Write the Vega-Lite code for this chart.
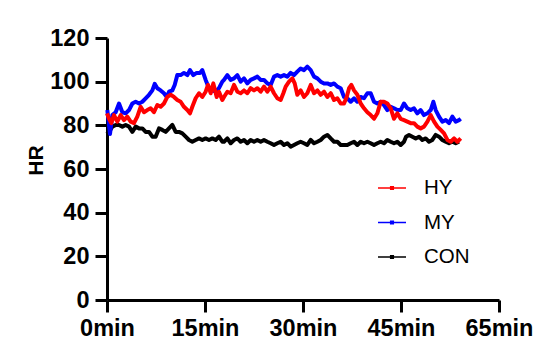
{
  "$schema": "https://vega.github.io/schema/vega-lite/v6.json",
  "width": 392,
  "height": 262,
  "autosize": "none",
  "padding": {"left": 107, "top": 38, "right": 47, "bottom": 52},
  "background": "white",
  "data": {"values": [
    {"g":"CON","t":0,"hr":76},{"g":"CON","t":0.31,"hr":77},{"g":"CON","t":0.82,"hr":79.4},{"g":"CON","t":1.33,"hr":80.2},{"g":"CON","t":1.84,"hr":80.2},{"g":"CON","t":2.35,"hr":79.4},{"g":"CON","t":2.86,"hr":80.2},{"g":"CON","t":3.37,"hr":79.4},{"g":"CON","t":3.88,"hr":77},{"g":"CON","t":4.39,"hr":79.4},{"g":"CON","t":4.9,"hr":78.6},{"g":"CON","t":5.41,"hr":78.6},{"g":"CON","t":5.92,"hr":77},{"g":"CON","t":6.43,"hr":77},{"g":"CON","t":6.94,"hr":74.8},{"g":"CON","t":7.45,"hr":74.8},{"g":"CON","t":7.96,"hr":78.6},{"g":"CON","t":8.47,"hr":77.9},{"g":"CON","t":8.98,"hr":77},{"g":"CON","t":9.49,"hr":78.6},{"g":"CON","t":10.0,"hr":80.2},{"g":"CON","t":10.51,"hr":77},{"g":"CON","t":11.02,"hr":77},{"g":"CON","t":11.53,"hr":76.3},{"g":"CON","t":12.04,"hr":74.8},{"g":"CON","t":12.55,"hr":73.3},{"g":"CON","t":13.06,"hr":72.5},{"g":"CON","t":13.57,"hr":73.3},{"g":"CON","t":14.08,"hr":74},{"g":"CON","t":14.59,"hr":73.3},{"g":"CON","t":15.1,"hr":74},{"g":"CON","t":15.61,"hr":73.3},{"g":"CON","t":16.12,"hr":74},{"g":"CON","t":16.63,"hr":73.3},{"g":"CON","t":17.14,"hr":74.8},{"g":"CON","t":17.65,"hr":72.5},
    {"g":"CON","t":17.91,"hr":72.5},{"g":"CON","t":18.42,"hr":74},{"g":"CON","t":18.93,"hr":71.8},{"g":"CON","t":19.44,"hr":73.3},{"g":"CON","t":19.95,"hr":74},{"g":"CON","t":20.46,"hr":72.5},{"g":"CON","t":20.97,"hr":73.3},{"g":"CON","t":21.48,"hr":71.8},{"g":"CON","t":21.99,"hr":73.3},{"g":"CON","t":22.5,"hr":72.5},{"g":"CON","t":23.01,"hr":73.3},{"g":"CON","t":23.52,"hr":72.5},{"g":"CON","t":24.03,"hr":73.3},{"g":"CON","t":24.54,"hr":72.5},{"g":"CON","t":25.05,"hr":71.8},{"g":"CON","t":25.56,"hr":71},{"g":"CON","t":26.07,"hr":71.8},{"g":"CON","t":26.58,"hr":72.5},{"g":"CON","t":27.09,"hr":71},{"g":"CON","t":27.6,"hr":71.8},{"g":"CON","t":28.11,"hr":70.2},{"g":"CON","t":28.62,"hr":71},{"g":"CON","t":29.13,"hr":71.8},{"g":"CON","t":29.64,"hr":72.5},{"g":"CON","t":30.15,"hr":71.8},{"g":"CON","t":30.66,"hr":71},{"g":"CON","t":31.18,"hr":73.3},{"g":"CON","t":31.69,"hr":71.8},{"g":"CON","t":32.2,"hr":72.5},{"g":"CON","t":32.71,"hr":73.3},{"g":"CON","t":33.22,"hr":74.8},{"g":"CON","t":33.73,"hr":75.6},{"g":"CON","t":34.24,"hr":74},{"g":"CON","t":34.75,"hr":72.5},{"g":"CON","t":35.26,"hr":72.5},{"g":"CON","t":35.77,"hr":71},
    {"g":"CON","t":36.28,"hr":71},{"g":"CON","t":36.79,"hr":71},{"g":"CON","t":37.3,"hr":71.8},{"g":"CON","t":37.81,"hr":72.5},{"g":"CON","t":38.32,"hr":71},{"g":"CON","t":38.83,"hr":72.5},{"g":"CON","t":39.34,"hr":71.8},{"g":"CON","t":39.85,"hr":72.5},{"g":"CON","t":40.36,"hr":71.8},{"g":"CON","t":40.87,"hr":71},{"g":"CON","t":41.38,"hr":71.8},{"g":"CON","t":41.89,"hr":72.5},{"g":"CON","t":42.4,"hr":71.8},{"g":"CON","t":42.91,"hr":73.3},{"g":"CON","t":43.42,"hr":72.5},{"g":"CON","t":43.93,"hr":71.8},{"g":"CON","t":44.44,"hr":72.5},{"g":"CON","t":44.95,"hr":71},{"g":"CON","t":45.46,"hr":72.5},{"g":"CON","t":45.77,"hr":74.8},{"g":"CON","t":46.23,"hr":75.6},{"g":"CON","t":46.74,"hr":74.8},{"g":"CON","t":47.25,"hr":74},{"g":"CON","t":47.76,"hr":74.8},{"g":"CON","t":48.27,"hr":73.3},{"g":"CON","t":48.78,"hr":74},{"g":"CON","t":49.29,"hr":72.5},{"g":"CON","t":49.8,"hr":73.3},{"g":"CON","t":50.31,"hr":75.6},{"g":"CON","t":50.82,"hr":74.8},{"g":"CON","t":51.33,"hr":73.3},{"g":"CON","t":51.84,"hr":72.5},{"g":"CON","t":52.35,"hr":71.8},{"g":"CON","t":52.86,"hr":72.5},{"g":"CON","t":53.37,"hr":71.8},{"g":"CON","t":53.88,"hr":72.5},
    {"g":"MY","t":0.05,"hr":87},{"g":"MY","t":0.46,"hr":76},{"g":"MY","t":0.82,"hr":84.7},{"g":"MY","t":1.33,"hr":86},{"g":"MY","t":1.84,"hr":90},{"g":"MY","t":2.35,"hr":86},{"g":"MY","t":2.86,"hr":85.5},{"g":"MY","t":3.37,"hr":87},{"g":"MY","t":3.88,"hr":90},{"g":"MY","t":4.39,"hr":90.8},{"g":"MY","t":4.9,"hr":90},{"g":"MY","t":5.41,"hr":90.8},{"g":"MY","t":5.92,"hr":92.4},{"g":"MY","t":6.43,"hr":94},{"g":"MY","t":6.94,"hr":96},{"g":"MY","t":7.3,"hr":99},{"g":"MY","t":7.7,"hr":97},{"g":"MY","t":8.21,"hr":96},{"g":"MY","t":8.72,"hr":94.7},{"g":"MY","t":9.13,"hr":93},{"g":"MY","t":9.49,"hr":95.4},{"g":"MY","t":10.0,"hr":96},{"g":"MY","t":10.36,"hr":98.5},{"g":"MY","t":10.76,"hr":103},{"g":"MY","t":11.27,"hr":103},{"g":"MY","t":11.78,"hr":104},{"g":"MY","t":12.3,"hr":103},{"g":"MY","t":12.7,"hr":105.3},{"g":"MY","t":13.21,"hr":103},{"g":"MY","t":13.72,"hr":104},{"g":"MY","t":14.23,"hr":104},{"g":"MY","t":14.59,"hr":105.3},{"g":"MY","t":15.1,"hr":100.8},{"g":"MY","t":15.61,"hr":97},{"g":"MY","t":16.12,"hr":96},{"g":"MY","t":16.63,"hr":95.4},{"g":"MY","t":17.14,"hr":97},{"g":"MY","t":17.65,"hr":100},
    {"g":"MY","t":17.91,"hr":100.8},{"g":"MY","t":18.42,"hr":103},{"g":"MY","t":18.93,"hr":100.8},{"g":"MY","t":19.44,"hr":101.5},{"g":"MY","t":19.95,"hr":103},{"g":"MY","t":20.46,"hr":100},{"g":"MY","t":20.97,"hr":101.5},{"g":"MY","t":21.48,"hr":99.2},{"g":"MY","t":21.99,"hr":100.8},{"g":"MY","t":22.5,"hr":101.5},{"g":"MY","t":23.01,"hr":102.3},{"g":"MY","t":23.52,"hr":100.8},{"g":"MY","t":24.03,"hr":100.8},{"g":"MY","t":24.54,"hr":99.2},{"g":"MY","t":25.05,"hr":98.5},{"g":"MY","t":25.56,"hr":102.3},{"g":"MY","t":26.07,"hr":103},{"g":"MY","t":26.58,"hr":102.3},{"g":"MY","t":27.09,"hr":103},{"g":"MY","t":27.6,"hr":102.3},{"g":"MY","t":28.11,"hr":104},{"g":"MY","t":28.62,"hr":103},{"g":"MY","t":29.13,"hr":104.6},{"g":"MY","t":29.64,"hr":106},{"g":"MY","t":30.15,"hr":105.3},{"g":"MY","t":30.66,"hr":106.9},{"g":"MY","t":31.18,"hr":105.3},{"g":"MY","t":31.69,"hr":102.3},{"g":"MY","t":32.2,"hr":101.5},{"g":"MY","t":32.71,"hr":100},{"g":"MY","t":33.22,"hr":99.2},{"g":"MY","t":33.73,"hr":99.2},{"g":"MY","t":34.24,"hr":98.5},{"g":"MY","t":34.75,"hr":99.2},{"g":"MY","t":35.26,"hr":97.7},{"g":"MY","t":35.77,"hr":97},
    {"g":"MY","t":36.28,"hr":93},{"g":"MY","t":36.79,"hr":92.4},{"g":"MY","t":37.3,"hr":90.8},{"g":"MY","t":37.81,"hr":92.4},{"g":"MY","t":38.32,"hr":90.8},{"g":"MY","t":38.83,"hr":93},{"g":"MY","t":39.34,"hr":92.4},{"g":"MY","t":39.85,"hr":94.7},{"g":"MY","t":40.36,"hr":94.7},{"g":"MY","t":40.87,"hr":90.8},{"g":"MY","t":41.38,"hr":90},{"g":"MY","t":41.89,"hr":90.8},{"g":"MY","t":42.4,"hr":89.3},{"g":"MY","t":42.91,"hr":87},{"g":"MY","t":43.42,"hr":88.5},{"g":"MY","t":43.93,"hr":87.8},{"g":"MY","t":44.44,"hr":87},{"g":"MY","t":44.95,"hr":87},{"g":"MY","t":45.46,"hr":90},{"g":"MY","t":45.97,"hr":87.8},{"g":"MY","t":46.48,"hr":87},{"g":"MY","t":46.99,"hr":87.8},{"g":"MY","t":47.5,"hr":85.5},{"g":"MY","t":48.01,"hr":87},{"g":"MY","t":48.52,"hr":84.7},{"g":"MY","t":49.04,"hr":85.5},{"g":"MY","t":49.55,"hr":87},{"g":"MY","t":49.95,"hr":90.8},{"g":"MY","t":50.31,"hr":87},{"g":"MY","t":50.82,"hr":84},{"g":"MY","t":51.33,"hr":81.7},{"g":"MY","t":51.84,"hr":82.4},{"g":"MY","t":52.35,"hr":81},{"g":"MY","t":52.86,"hr":84},{"g":"MY","t":53.37,"hr":81.7},{"g":"MY","t":53.88,"hr":82.4},{"g":"MY","t":54.14,"hr":83},
    {"g":"HY","t":0,"hr":85.5},{"g":"HY","t":0.31,"hr":83},{"g":"HY","t":0.66,"hr":81},{"g":"HY","t":1.07,"hr":84.7},{"g":"HY","t":1.58,"hr":81.7},{"g":"HY","t":2.09,"hr":84.7},{"g":"HY","t":2.6,"hr":82.4},{"g":"HY","t":3.11,"hr":84},{"g":"HY","t":3.62,"hr":81.7},{"g":"HY","t":4.13,"hr":81},{"g":"HY","t":4.64,"hr":84},{"g":"HY","t":5.15,"hr":88.5},{"g":"HY","t":5.66,"hr":86},{"g":"HY","t":6.17,"hr":87},{"g":"HY","t":6.68,"hr":87.8},{"g":"HY","t":7.19,"hr":86},{"g":"HY","t":7.7,"hr":89.3},{"g":"HY","t":8.21,"hr":88.5},{"g":"HY","t":8.72,"hr":90},{"g":"HY","t":9.23,"hr":93},{"g":"HY","t":9.74,"hr":94},{"g":"HY","t":10.25,"hr":93},{"g":"HY","t":10.76,"hr":91.6},{"g":"HY","t":11.27,"hr":90.8},{"g":"HY","t":11.78,"hr":88.5},{"g":"HY","t":12.3,"hr":87},{"g":"HY","t":12.7,"hr":85.5},{"g":"HY","t":13.06,"hr":88.5},{"g":"HY","t":13.57,"hr":92.4},{"g":"HY","t":14.08,"hr":94.7},{"g":"HY","t":14.59,"hr":93},{"g":"HY","t":15.1,"hr":95.4},{"g":"HY","t":15.46,"hr":98.5},{"g":"HY","t":15.87,"hr":94.7},{"g":"HY","t":16.27,"hr":99.2},{"g":"HY","t":16.79,"hr":93},{"g":"HY","t":17.14,"hr":95.4},{"g":"HY","t":17.65,"hr":91.6},
    {"g":"HY","t":17.91,"hr":93},{"g":"HY","t":18.42,"hr":95.4},{"g":"HY","t":18.93,"hr":94.7},{"g":"HY","t":19.44,"hr":98.5},{"g":"HY","t":19.95,"hr":95.4},{"g":"HY","t":20.46,"hr":94.7},{"g":"HY","t":20.97,"hr":96},{"g":"HY","t":21.48,"hr":94.7},{"g":"HY","t":21.99,"hr":97},{"g":"HY","t":22.5,"hr":96},{"g":"HY","t":23.01,"hr":97},{"g":"HY","t":23.52,"hr":95.4},{"g":"HY","t":24.03,"hr":97.7},{"g":"HY","t":24.54,"hr":95.4},{"g":"HY","t":25.05,"hr":97.7},{"g":"HY","t":25.56,"hr":94.7},{"g":"HY","t":26.07,"hr":92.4},{"g":"HY","t":26.58,"hr":91.6},{"g":"HY","t":26.99,"hr":94.7},{"g":"HY","t":27.35,"hr":97.7},{"g":"HY","t":27.86,"hr":100},{"g":"HY","t":28.37,"hr":101.5},{"g":"HY","t":28.73,"hr":99.2},{"g":"HY","t":29.13,"hr":94},{"g":"HY","t":29.64,"hr":96},{"g":"HY","t":30.15,"hr":93},{"g":"HY","t":30.66,"hr":94.7},{"g":"HY","t":31.18,"hr":98.5},{"g":"HY","t":31.69,"hr":94.7},{"g":"HY","t":32.2,"hr":96},{"g":"HY","t":32.71,"hr":94},{"g":"HY","t":33.22,"hr":95.4},{"g":"HY","t":33.73,"hr":93},{"g":"HY","t":34.24,"hr":94.7},{"g":"HY","t":34.75,"hr":91.6},{"g":"HY","t":35.26,"hr":92.4},{"g":"HY","t":35.77,"hr":90},
    {"g":"HY","t":36.28,"hr":90},{"g":"HY","t":36.69,"hr":93},{"g":"HY","t":37.05,"hr":97},{"g":"HY","t":37.4,"hr":98.5},{"g":"HY","t":37.81,"hr":96},{"g":"HY","t":38.32,"hr":94},{"g":"HY","t":38.83,"hr":90},{"g":"HY","t":39.34,"hr":87.8},{"g":"HY","t":39.85,"hr":86},{"g":"HY","t":40.36,"hr":84.7},{"g":"HY","t":40.87,"hr":83},{"g":"HY","t":41.38,"hr":85.5},{"g":"HY","t":41.89,"hr":90.8},{"g":"HY","t":42.4,"hr":90.8},{"g":"HY","t":42.91,"hr":90},{"g":"HY","t":43.42,"hr":87.8},{"g":"HY","t":43.93,"hr":83},{"g":"HY","t":44.44,"hr":85.5},{"g":"HY","t":44.95,"hr":83},{"g":"HY","t":45.46,"hr":82.4},{"g":"HY","t":45.97,"hr":81.7},{"g":"HY","t":46.48,"hr":81},{"g":"HY","t":46.99,"hr":81},{"g":"HY","t":47.5,"hr":79.4},{"g":"HY","t":48.01,"hr":78.6},{"g":"HY","t":48.52,"hr":79.4},{"g":"HY","t":49.04,"hr":81.7},{"g":"HY","t":49.55,"hr":84.7},{"g":"HY","t":50.06,"hr":81.7},{"g":"HY","t":50.57,"hr":79.4},{"g":"HY","t":51.08,"hr":77.9},{"g":"HY","t":51.59,"hr":76.3},{"g":"HY","t":52.1,"hr":73.3},{"g":"HY","t":52.61,"hr":72.5},{"g":"HY","t":53.12,"hr":74},{"g":"HY","t":53.63,"hr":72.5},{"g":"HY","t":54.14,"hr":74}
  ]},
  "mark": {"type": "line", "strokeWidth": 4, "strokeJoin": "round", "clip": false},
  "encoding": {
    "x": {
      "field": "t", "type": "quantitative",
      "scale": {"domain": [0, 60], "nice": false, "zero": false},
      "axis": {
        "title": null, "values": [0, 15, 30, 45, 60],
        "labelExpr": "datum.value == 60 ? '65min' : datum.value + 'min'",
        "grid": false, "labelFlush": false, "labelPadding": 4
      }
    },
    "y": {
      "field": "hr", "type": "quantitative",
      "scale": {"domain": [0, 120], "nice": false},
      "axis": {
        "title": "HR", "values": [0, 20, 40, 60, 80, 100, 120], "grid": false,
        "labelPadding": 6,
        "titleX": -65, "titleY": 122, "titleAngle": -90, "titleAlign": "center", "titleBaseline": "alphabetic",
        "titleFont": "Liberation Sans", "titleFontSize": 21, "titleFontWeight": "bold", "titleColor": "black"
      }
    },
    "color": {
      "field": "g", "type": "nominal",
      "scale": {"domain": ["HY", "MY", "CON"], "range": ["#ff0000", "#0000ff", "#000000"]},
      "legend": {
        "title": null, "orient": "none", "legendX": 270, "legendY": 135,
        "symbolType": "M-1,0H1M-0.09,-0.09H0.09V0.09H-0.09Z",
        "symbolSize": 784, "symbolStrokeWidth": 1.6,
        "labelFont": "Liberation Sans", "labelFontSize": 20.5, "labelColor": "black",
        "labelOffset": 17, "rowPadding": 8.5
      }
    }
  },
  "config": {
    "view": {"stroke": null},
    "axis": {
      "domainColor": "black", "domainWidth": 3, "tickColor": "black", "tickWidth": 3, "tickSize": 12,
      "labelFont": "Liberation Sans", "labelFontSize": 23.5, "labelFontWeight": "bold", "labelColor": "black"
    }
  }
}
